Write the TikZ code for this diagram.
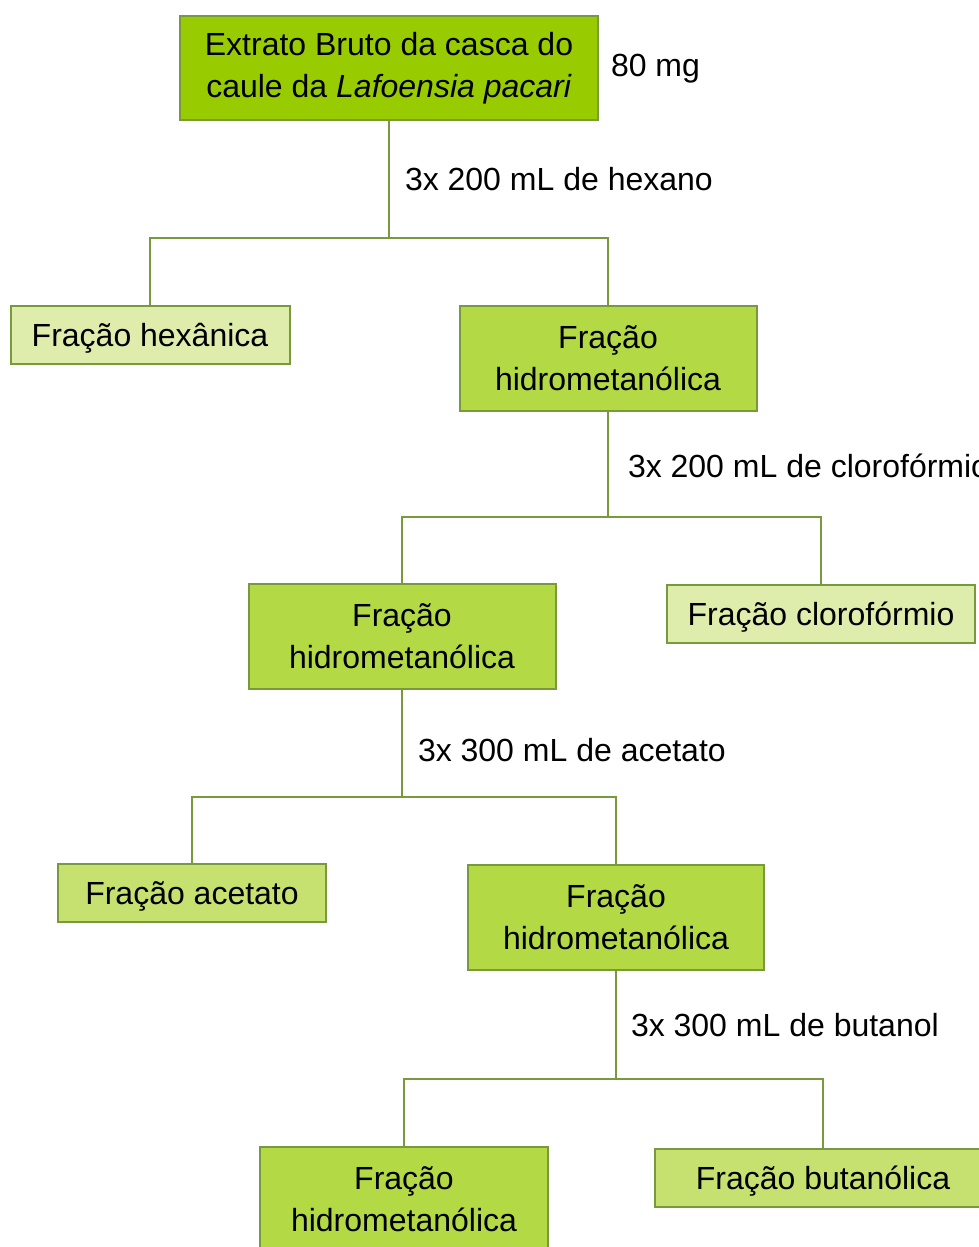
\documentclass[tikz,border=0pt]{standalone}
\usepackage{fontspec}
\setmainfont{Liberation Sans}
\definecolor{edgegreen}{HTML}{789A3C}
\definecolor{topgreen}{HTML}{99CC00}
\definecolor{hidgreen}{HTML}{B3D944}
\definecolor{midgreen}{HTML}{C6E170}
\definecolor{palegreen}{HTML}{DFEDAC}
\begin{document}
\begin{tikzpicture}[x=1pt,y=-1pt,line width=2pt,
  box/.style={draw=edgegreen,inner sep=0pt,align=center,font=\fontsize{32}{42}\selectfont},
  top node/.style={box,fill=topgreen},
  hid node/.style={box,fill=hidgreen,minimum height=105pt},
  mid node/.style={box,fill=midgreen,minimum height=58pt,text depth=0pt},
  pale node/.style={box,fill=palegreen,minimum height=58pt,text depth=0pt},
  step label/.style={anchor=west,inner sep=0pt,font=\fontsize{32}{42}\selectfont},
  link/.style={draw=edgegreen}]

  \useasboundingbox (0,0) rectangle (979,1247);
  \clip (0,0) rectangle (979,1247);

  \node[top node,minimum width=418pt,minimum height=104pt] (0) at (389,68) {Extrato Bruto da casca do\\caule da \textit{Lafoensia pacari}};
  \node[step label] (m0) at (610,69) {80 mg};

  \node[pale node,minimum width=279pt] (1) at (150,335) {Fração hexânica};
  \node[hid node,minimum width=297pt] (2) at (608,358) {Fração\\hidrometanólica};
  \node[hid node,minimum width=307pt] (3) at (402,636) {Fração\\hidrometanólica};
  \node[pale node,minimum width=308pt] (4) at (821,614) {Fração clorofórmio};
  \node[mid node,minimum width=268pt] (5) at (192,893) {Fração acetato};
  \node[hid node,minimum width=296pt] (6) at (616,917) {Fração\\hidrometanólica};
  \node[hid node,minimum width=288pt] (7) at (404,1199) {Fração\\hidrometanólica};
  \node[mid node,minimum width=336pt] (8) at (823,1178) {Fração butanólica};

  \coordinate (j0) at (389,238);
  \coordinate (j1) at (608,517);
  \coordinate (j2) at (402,797);
  \coordinate (j3) at (616,1079);

  \node[step label] (l0) at (404,179) {3x 200 mL de hexano};
  \node[step label] (l1) at (627,466) {3x 200 mL de clorofórmio};
  \node[step label] (l2) at (417,750) {3x 300 mL de acetato};
  \node[step label] (l3) at (630,1025) {3x 300 mL de butanol};

  \path[link]
    (0) -- (j0) (1.north) |- (j0) -| (2.north)
    (2) -- (j1) (3.north) |- (j1) -| (4.north)
    (3) -- (j2) (5.north) |- (j2) -| (6.north)
    (6) -- (j3) (7.north) |- (j3) -| (8.north);
\end{tikzpicture}
\end{document}
